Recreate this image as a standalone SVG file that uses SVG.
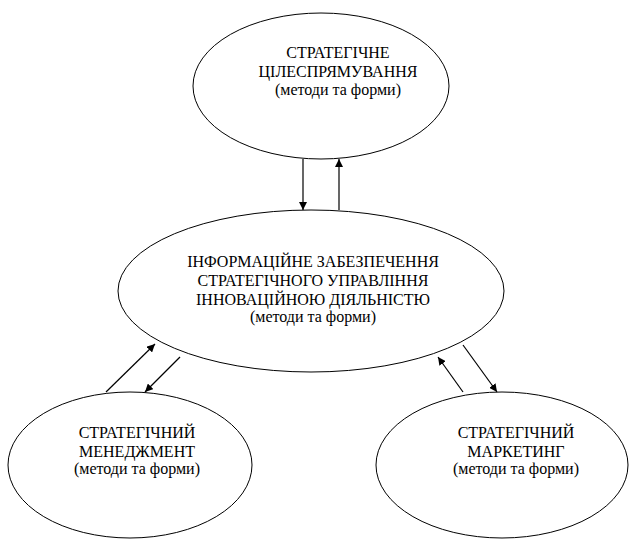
<svg xmlns="http://www.w3.org/2000/svg" width="630" height="539" viewBox="0 0 630 539">
<defs>
<style>
.n{fill:#fff;stroke:#000;stroke-width:1}
.t{font-family:"Liberation Serif","Times New Roman",serif;font-size:16px;fill:#000;text-anchor:middle}
.c{stroke:#000;stroke-width:1.2;fill:none;marker-end:url(#ah)}
</style>
<marker id="ah" viewBox="0 0 10 10" refX="10" refY="5" markerWidth="8" markerHeight="8" markerUnits="userSpaceOnUse" orient="auto">
<path d="M0,0 L10,5 L0,10 Z" fill="#000"/>
</marker>
</defs>
<rect width="630" height="539" fill="#fff"/>
<g id="top">
<ellipse class="n" cx="321" cy="86" rx="128" ry="73"/>
<text class="t" x="338" y="58">СТРАТЕГІЧНЕ</text>
<text class="t" x="338" y="77">ЦІЛЕСПРЯМУВАННЯ</text>
<text class="t" x="338" y="95">(методи та форми)</text>
</g>
<g id="center">
<ellipse class="n" cx="311" cy="291" rx="193" ry="81"/>
<text class="t" x="313" y="267">ІНФОРМАЦІЙНЕ ЗАБЕЗПЕЧЕННЯ</text>
<text class="t" x="313" y="286">СТРАТЕГІЧНОГО УПРАВЛІННЯ</text>
<text class="t" x="313" y="305">ІННОВАЦІЙНОЮ ДІЯЛЬНІСТЮ</text>
<text class="t" x="313" y="322">(методи та форми)</text>
</g>
<g id="left">
<ellipse class="n" cx="130" cy="465" rx="122" ry="73"/>
<text class="t" x="137" y="438">СТРАТЕГІЧНИЙ</text>
<text class="t" x="137" y="457">МЕНЕДЖМЕНТ</text>
<text class="t" x="137" y="474">(методи та форми)</text>
</g>
<g id="right">
<ellipse class="n" cx="502" cy="465" rx="126" ry="73"/>
<text class="t" x="516" y="438">СТРАТЕГІЧНИЙ</text>
<text class="t" x="516" y="457">МАРКЕТИНГ</text>
<text class="t" x="516" y="474">(методи та форми)</text>
</g>
<g id="connectors">
<line class="c" x1="303" y1="159" x2="303" y2="210"/>
<line class="c" x1="339" y1="210" x2="339" y2="159"/>
<line class="c" x1="106" y1="392" x2="155" y2="344"/>
<line class="c" x1="180" y1="357" x2="145" y2="392"/>
<line class="c" x1="463" y1="392" x2="438" y2="357"/>
<line class="c" x1="463" y1="345" x2="497" y2="392"/>
</g>
</svg>
